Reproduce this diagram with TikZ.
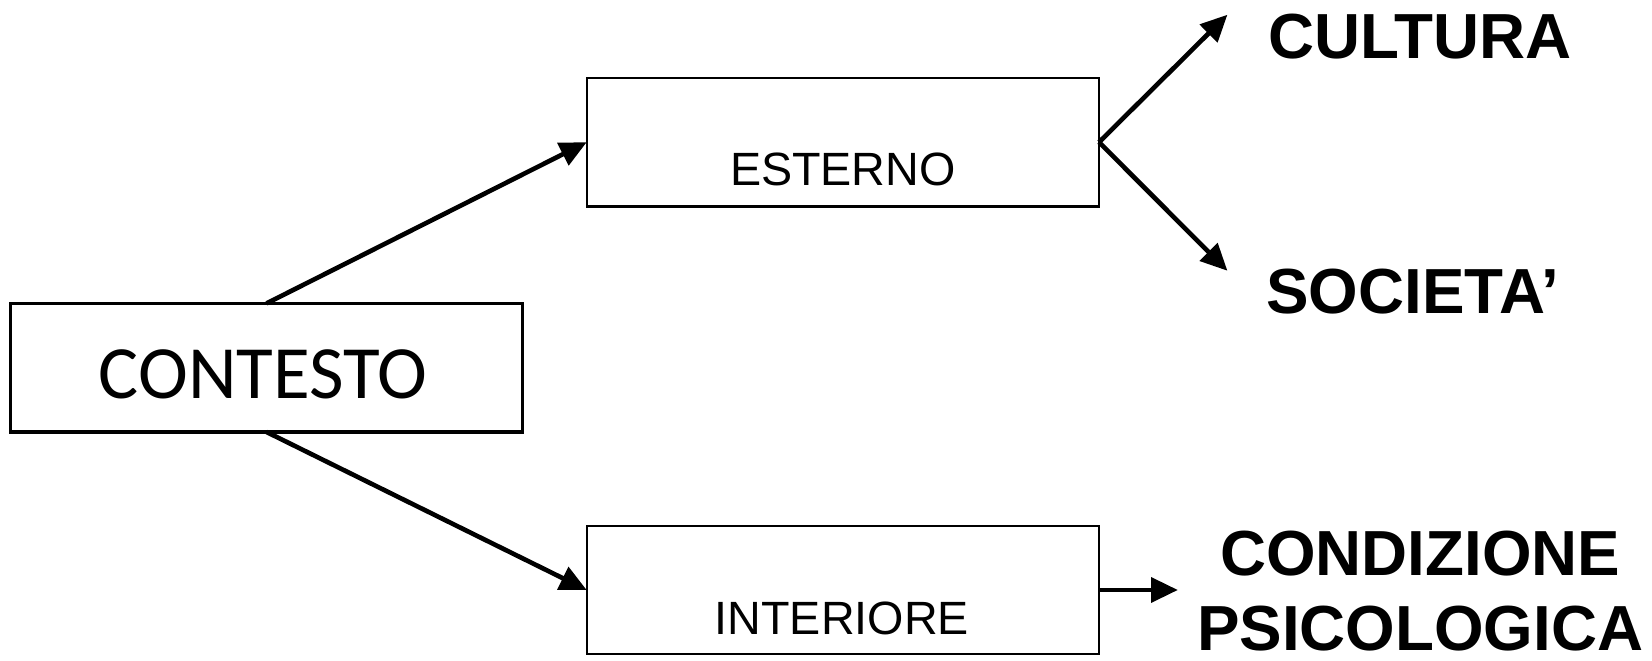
\documentclass[tikz,border=0pt]{standalone}
\usepackage{fontspec}
\setmainfont{Liberation Sans}
\newfontfamily\carlito{Carlito}
\usetikzlibrary{arrows.meta}
\begin{document}
\begin{tikzpicture}[x=0.01cm,y=-0.01cm,
  box/.style={draw, line width=0.6pt, minimum width=4.86cm, minimum height=1.22cm, inner sep=0pt, outer sep=0pt},
  bigbox/.style={box, line width=0.85pt},
  conn/.style={line width=1.25pt, -{Triangle[length=7.2pt, width=6.6pt]}},
  boxtext/.style={font=\fontsize{12.6pt}{14pt}\selectfont, anchor=base, inner sep=0pt},
  lbl/.style={font=\fontsize{17.2pt}{20.2pt}\selectfont\bfseries, align=center, inner sep=0pt}]
\useasboundingbox (0,0) rectangle (1568,627.4);
\node[bigbox] (ctx) at (253,349) {};
\node[font=\carlito\fontsize{20.3pt}{22pt}\selectfont, anchor=base, inner sep=0pt] (ctxt) at (250,378) {CONTESTO};
\node[box] (est) at (800,135) {};
\node[boxtext] (estt) at (800,176) {ESTERNO};
\node[box] (int) at (800,560) {};
\node[boxtext] (intt) at (799,602) {INTERIORE};
\node[lbl] (cul) at (1348,35) {CULTURA};
\node[lbl] (soc) at (1341,277) {SOCIETA’};
\node[lbl] (cond) at (1348,561) {CONDIZIONE\\PSICOLOGICA};
\coordinate (cT) at (1165,14);
\coordinate (sT) at (1165,257);
\coordinate (pT) at (1118,560);
\draw[conn] (ctx.north) -- (est.west);
\draw[conn] (ctx.south) -- (int.west);
\draw[conn] (est.east) -- (cT);
\draw[conn] (est.east) -- (sT);
\draw[conn] (int.east) -- (pT);
\end{tikzpicture}
\end{document}
